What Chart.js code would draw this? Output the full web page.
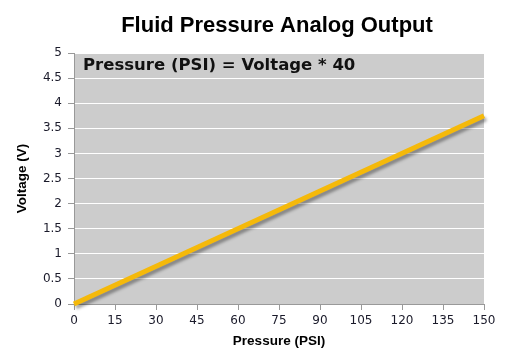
<!DOCTYPE html>
<html>
<head>
<meta charset="utf-8">
<script src="https://cdn.jsdelivr.net/npm/chart.js@4/dist/chart.umd.min.js"></script>
<style>
    html, body { margin: 0; padding: 0; background: #ffffff; }
    #wrap { width: 508px; height: 363px; }
</style>
</head>
<body>
<div id="wrap"><canvas id="pressure-chart"></canvas></div>
<script>
"use strict";

// Pressure in PSI on the x axis, sensor voltage on the y axis.
const pressureValues = [0, 150];
const voltageValues = [0, 3.75];

const chartTitle = "Fluid Pressure Analog Output";
const formulaText = "Pressure (PSI) = Voltage * 40";

const lineColor = "#f5b90a";

// Grey plot background behind the grid.
const plotBackground = {
    id: "plotBackground",
    beforeDraw(chart) {
        const area = chart.chartArea;
        const ctx = chart.ctx;
        ctx.save();
        ctx.fillStyle = "#cccccc";
        ctx.fillRect(area.left, area.top, area.right - area.left, area.bottom - area.top);
        ctx.restore();
    }
};

// Soft drop shadow under the line, like the original spreadsheet chart.
const lineShadow = {
    id: "lineShadow",
    beforeDatasetsDraw(chart) {
        const ctx = chart.ctx;
        ctx.save();
        ctx.shadowColor = "rgba(0, 0, 0, 0.35)";
        ctx.shadowBlur = 3;
        ctx.shadowOffsetX = 2;
        ctx.shadowOffsetY = 3;
    },
    afterDatasetsDraw(chart) {
        chart.ctx.restore();
    }
};

// Title above the plot and the formula inside its top left corner.
const chartTexts = {
    id: "chartTexts",
    afterDraw(chart) {
        const ctx = chart.ctx;
        const area = chart.chartArea;
        ctx.save();
        ctx.fillStyle = "#000000";
        ctx.textBaseline = "middle";

        ctx.font = "bold 22px 'Liberation Sans', Arial, sans-serif";
        ctx.textAlign = "center";
        ctx.fillText(chartTitle, (area.left + area.right) / 2 - 2, 26);

        ctx.fillStyle = "#111111";
        ctx.font = "bold 16.5px 'DejaVu Sans', Verdana, sans-serif";
        ctx.textAlign = "left";
        ctx.fillText(formulaText, area.left + 9, area.top + 13);
        ctx.restore();
    }
};

const tickFont = { family: "'DejaVu Sans', Verdana, sans-serif", size: 12 };
const axisTitleFont = { family: "'Liberation Sans', Arial, sans-serif", size: 13.5, weight: "bold" };

const config = {
    type: "line",
    data: {
        datasets: [{
            data: pressureValues.map((p, i) => ({ x: p, y: voltageValues[i] })),
            borderColor: lineColor,
            borderWidth: 5,
            pointRadius: 0,
            fill: false,
            tension: 0,
            clip: 8
        }]
    },
    options: {
        responsive: true,
        maintainAspectRatio: false,
        animation: false,
        events: [],
        layout: {
            padding: { top: 53, right: 24, left: 0, bottom: 0 }
        },
        scales: {
            x: {
                type: "linear",
                min: 0,
                max: 150,
                afterFit(scale) { scale.height = 59; },
                ticks: {
                    stepSize: 15,
                    color: "#1a1a2a",
                    font: tickFont,
                    padding: 4,
                    maxRotation: 0
                },
                grid: {
                    drawOnChartArea: false,
                    drawTicks: true,
                    tickLength: 6,
                    tickColor: "#999999"
                },
                border: { color: "#999999" },
                title: {
                    display: true,
                    text: "Pressure (PSI)",
                    color: "#000000",
                    font: axisTitleFont,
                    padding: { top: 0, bottom: 14 }
                }
            },
            y: {
                min: 0,
                max: 5,
                afterFit(scale) { scale.width = 74; },
                ticks: {
                    stepSize: 0.5,
                    color: "#1a1a2a",
                    font: tickFont,
                    padding: 6,
                    callback(value) {
                        return String(value);
                    }
                },
                grid: {
                    color: "#ffffff",
                    lineWidth: 1,
                    tickLength: 6,
                    tickColor: "#999999"
                },
                border: { color: "#999999" },
                title: {
                    display: true,
                    text: "Voltage (V)",
                    color: "#000000",
                    font: axisTitleFont,
                    padding: { top: 14, bottom: 14 }
                }
            }
        },
        plugins: {
            legend: { display: false },
            title: { display: false },
            tooltip: { enabled: false }
        }
    },
    plugins: [plotBackground, lineShadow, chartTexts]
};

new Chart(document.getElementById("pressure-chart"), config);
</script>
</body>
</html>
